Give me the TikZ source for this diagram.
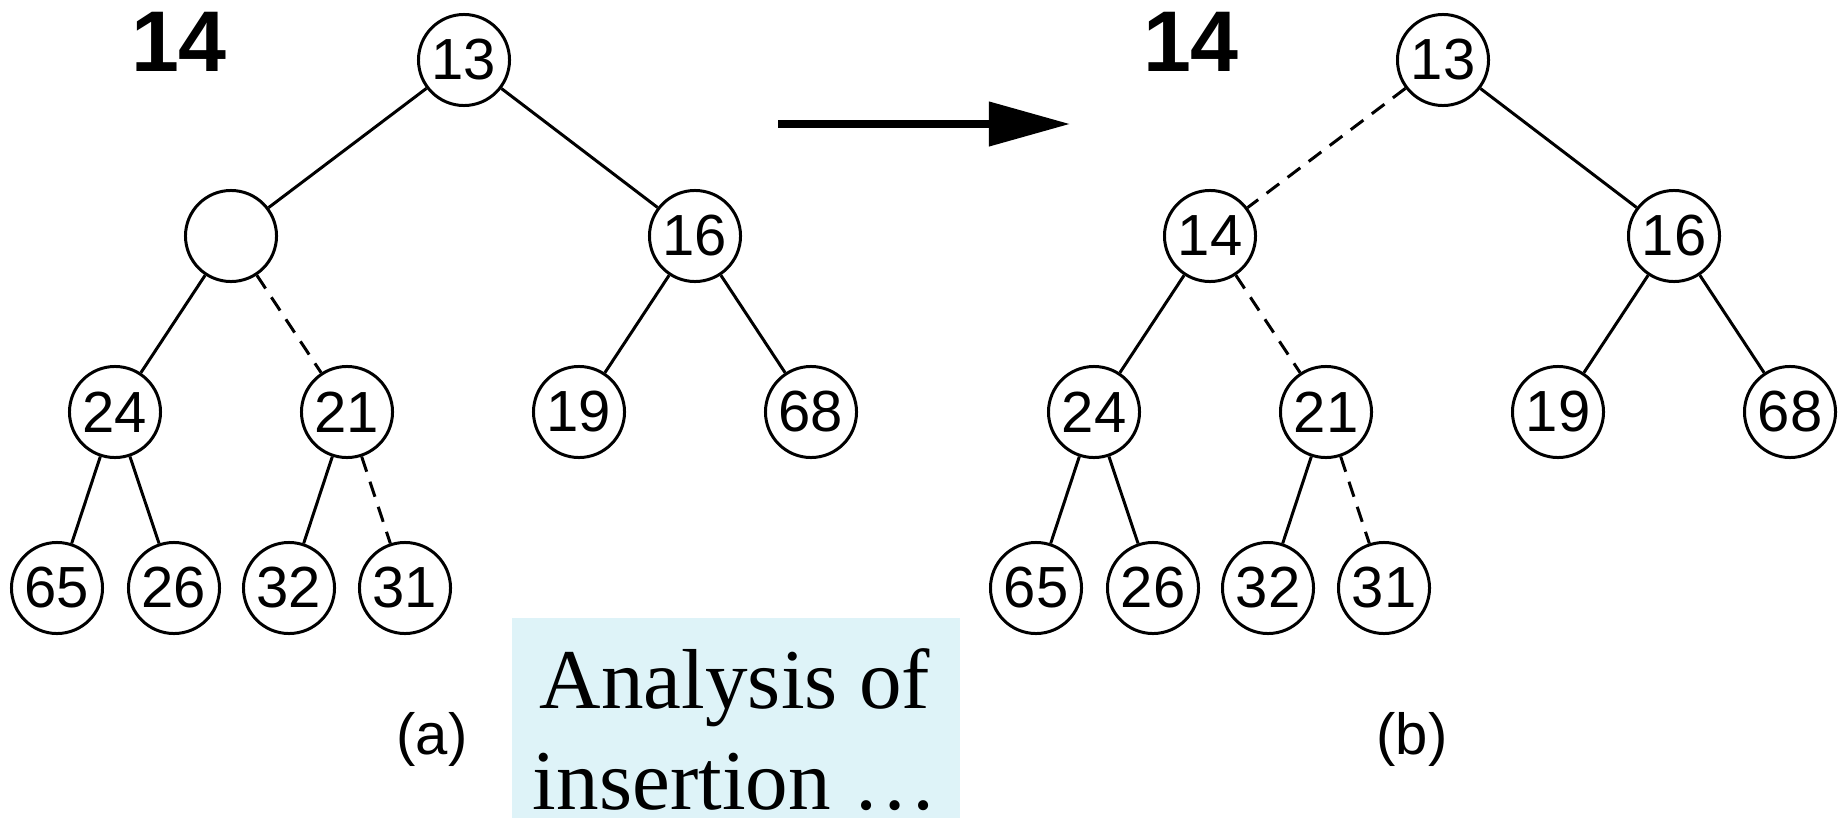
\documentclass[tikz,border=0pt]{standalone}
\usepackage{fontspec}
\setmainfont{Liberation Sans}
\newfontfamily\serieffont{Liberation Serif}
\usetikzlibrary{arrows.meta}
\definecolor{doosblauw}{RGB}{222,243,248}

\begin{document}
\begin{tikzpicture}[x=0.01cm, y=-0.01cm,
		knoop/.style = {draw, circle, line width=0.85pt, minimum size=0.91cm, inner sep=0pt, font=\fontsize{16.5}{18}\selectfont},
		tak/.style = {line width=0.85pt},
		stippel/.style = {tak, dash pattern=on 4.5pt off 3pt},
		kop/.style = {font=\fontsize{24.5}{28}\selectfont\bfseries},
		onder/.style = {font=\fontsize{16.5}{18}\selectfont}]
				% grootte
				\useasboundingbox (0, 0) rectangle (1845, 818);
				
				\def\dx{979}
				
				% boom (a)
				\node[kop] (a14) at (179, 42) {14};
				\node[knoop] (a13) at (464, 60) {13};
				\node[knoop] (aE)  at (231, 236) {};
				\node[knoop] (a16) at (695, 236) {16};
				\node[knoop] (a24) at (115, 412) {24};
				\node[knoop] (a21) at (347, 412) {21};
				\node[knoop] (a19) at (579, 412) {19};
				\node[knoop] (a68) at (811, 412) {68};
				\node[knoop] (a65) at (57, 588) {65};
				\node[knoop] (a26) at (174, 588) {26};
				\node[knoop] (a32) at (289, 588) {32};
				\node[knoop] (a31) at (405, 588) {31};
				\node[onder] (la) at (432, 739) {(a)};
				
				\draw[tak] (a13) -- (aE);
				\draw[tak] (a13) -- (a16);
				\draw[tak] (aE) -- (a24);
				\draw[stippel] (aE) -- (a21);
				\draw[tak] (a16) -- (a19);
				\draw[tak] (a16) -- (a68);
				\draw[tak] (a24) -- (a65);
				\draw[tak] (a24) -- (a26);
				\draw[tak] (a21) -- (a32);
				\draw[stippel] (a21) -- (a31);
				
				% pijl
				\coordinate (p1) at (778, 124);
				\coordinate (p2) at (1070, 124);
				\draw[-{Triangle[length=0.81cm, width=0.43cm]}, line width=2.1pt] (p1) -- (p2);
				
				% boom (b)
				\begin{scope}[xshift=\dx*0.01cm]
				\node[kop] (b14t) at (212, 42) {14};
				\node[knoop] (b13) at (464, 60) {13};
				\node[knoop] (b14) at (231, 236) {14};
				\node[knoop] (b16) at (695, 236) {16};
				\node[knoop] (b24) at (115, 412) {24};
				\node[knoop] (b21) at (347, 412) {21};
				\node[knoop] (b19) at (579, 412) {19};
				\node[knoop] (b68) at (811, 412) {68};
				\node[knoop] (b65) at (57, 588) {65};
				\node[knoop] (b26) at (174, 588) {26};
				\node[knoop] (b32) at (289, 588) {32};
				\node[knoop] (b31) at (405, 588) {31};
				\node[onder] (lb) at (433, 739) {(b)};
				\end{scope}
				
				\draw[stippel] (b13) -- (b14);
				\draw[tak] (b13) -- (b16);
				\draw[tak] (b14) -- (b24);
				\draw[stippel] (b14) -- (b21);
				\draw[tak] (b16) -- (b19);
				\draw[tak] (b16) -- (b68);
				\draw[tak] (b24) -- (b65);
				\draw[tak] (b24) -- (b26);
				\draw[tak] (b21) -- (b32);
				\draw[stippel] (b21) -- (b31);
				
				% tekstvak
				\node[fill=doosblauw, anchor=north west, minimum width=4.48cm, minimum height=2.01cm, inner sep=0pt] (doos) at (511, 617) {};
				\node[anchor=base, font=\serieffont\fontsize{24.2}{29}\selectfont] (r1) at (735, 708) {Analysis of};
				\node[anchor=base, font=\serieffont\fontsize{24.2}{29}\selectfont] (r2) at (735, 809) {insertion …};
\end{tikzpicture}
\end{document}
